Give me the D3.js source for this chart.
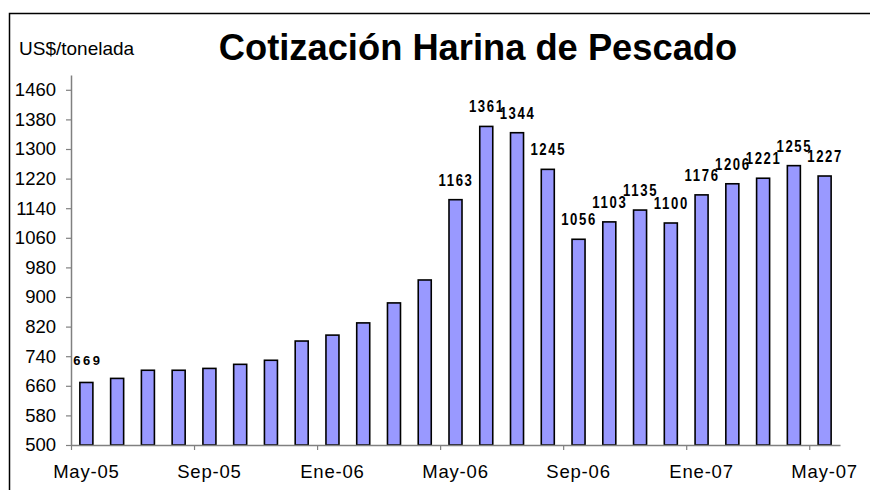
<!DOCTYPE html>
<html>
<head>
<meta charset="utf-8">
<script src="https://cdn.jsdelivr.net/npm/d3@7/dist/d3.min.js"></script>
<style>
  html, body { margin: 0; padding: 0; background: #fff; }
  svg { display: block; }
  text { font-family: "Liberation Sans", Arial, sans-serif; }
</style>
</head>
<body>
<svg id="chart" width="870" height="490"></svg>
<script>
const months = ["May-05","Jun-05","Jul-05","Ago-05","Sep-05","Oct-05","Nov-05","Dic-05",
  "Ene-06","Feb-06","Mar-06","Abr-06","May-06","Jun-06","Jul-06","Ago-06","Sep-06","Oct-06",
  "Nov-06","Dic-06","Ene-07","Feb-07","Mar-07","Abr-07","May-07"];
const values = [669,680,702,702,707,718,729,781,797,830,884,946,
  1163,1361,1344,1245,1056,1103,1135,1100,1176,1206,1221,1255,1227];
const dataLabels = ["669",null,null,null,null,null,null,null,null,null,null,null,
  "1163","1361","1344","1245","1056","1103","1135","1100","1176","1206","1221","1255","1227"];
const xTickLabels = ["May-05","Sep-05","Ene-06","May-06","Sep-06","Ene-07","May-07"];
const yTicks = [500,580,660,740,820,900,980,1060,1140,1220,1300,1380,1460];
const yMax = 1500;
const title = "Cotización Harina de Pescado";
const yUnit = "US$/tonelada";

const svg = d3.select("#chart");
const mLeft = 71, mRight = 840, mTop = 75, mBottom = 445;

// frame
svg.append("rect").attr("x", 9.5).attr("y", 13.5).attr("width", 900).attr("height", 500)
  .attr("fill", "#fff").attr("stroke", "#000").attr("stroke-width", 1.5);

const x = d3.scaleBand().domain(months).range([mLeft, mRight])
  .paddingInner(0.577).paddingOuter(0.2885);
const xIdx = d3.scaleLinear().domain([0, months.length]).range([mLeft, mRight]);
const y = d3.scaleLinear().domain([500, yMax]).range([mBottom, mTop]);

// bars
svg.append("g").selectAll("rect").data(values).join("rect")
  .attr("x", (d, i) => x(months[i]))
  .attr("y", d => y(d))
  .attr("width", x.bandwidth())
  .attr("height", d => y(500) - y(d))
  .attr("fill", "#9999ff")
  .attr("stroke", "#000")
  .attr("stroke-width", 1.6);

// y axis
const yAxis = svg.append("g").attr("transform", `translate(${mLeft},0)`)
  .call(d3.axisLeft(y).tickValues(yTicks).tickFormat(d3.format("d"))
    .tickSize(5).tickSizeOuter(0).tickPadding(10));
yAxis.select(".domain").attr("stroke", "#808080").attr("stroke-width", 1.5);
yAxis.selectAll(".tick line").attr("stroke", "#808080").attr("stroke-width", 1.2);
yAxis.selectAll(".tick text").attr("font-size", "18.5px").attr("fill", "#000")
  .attr("font-family", "Liberation Sans, Arial, sans-serif");

// x axis tick marks at category boundaries
const xTicksG = svg.append("g").attr("transform", `translate(0,${mBottom})`)
  .call(d3.axisBottom(xIdx).tickValues(d3.range(0, months.length, 4)).tickSize(5)
    .tickSizeOuter(0).tickFormat(""));
xTicksG.select(".domain").attr("stroke", "#808080").attr("stroke-width", 1.5);
xTicksG.selectAll(".tick line").attr("stroke", "#808080").attr("stroke-width", 1.2);

// x axis labels at category centres
const xLab = svg.append("g").attr("transform", `translate(0,${mBottom})`)
  .call(d3.axisBottom(x).tickValues(xTickLabels).tickSize(0).tickPadding(20));
xLab.select(".domain").remove();
xLab.selectAll(".tick text").attr("font-size", "18.5px").attr("fill", "#000")
  .attr("letter-spacing", "0.8px")
  .attr("font-family", "Liberation Sans, Arial, sans-serif");

// data labels
const lbl = values.map((v, i) => ({v, i, t: dataLabels[i]})).filter(d => d.t);
svg.append("g").selectAll("text").data(lbl).join("text")
  .attr("transform", d => {
    const cx = x(months[d.i]) + x.bandwidth() / 2;
    return d.i === 0
      ? `translate(${cx + 1.5},${y(d.v) - 17})`
      : `translate(${cx + 0.5},${y(d.v) - 14}) scale(0.82,1)`;
  })
  .attr("text-anchor", "middle")
  .attr("font-size", d => d.i === 0 ? "13px" : "16px")
  .attr("font-weight", "bold")
  .attr("letter-spacing", d => d.i === 0 ? "2.5px" : "2px")
  .text(d => d.t);

// unit label
svg.append("text").attr("x", 19).attr("y", 55).attr("font-size", "19px").text(yUnit);

// title
svg.append("text").attr("x", 478).attr("y", 60).attr("text-anchor", "middle")
  .attr("font-size", "36.3px").attr("font-weight", "bold").text(title);
</script>
</body>
</html>
